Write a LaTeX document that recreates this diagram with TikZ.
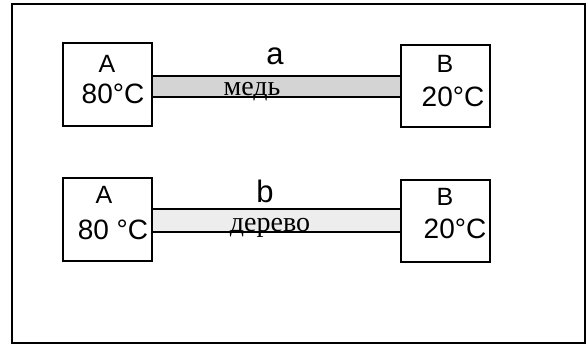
\documentclass[tikz,border=0pt]{standalone}
\usepackage{fontspec}
\setmainfont{Liberation Serif}
\setsansfont{Liberation Sans}
\begin{document}
\begin{tikzpicture}[x=1pt,y=-1pt,
  tbox/.style={draw=black,line width=1.4pt,fill=white},
  rod/.style={draw=black,line width=1.2pt},
  lab/.style={font=\sffamily\fontsize{25}{27}\selectfont,inner sep=0pt,anchor=base},
  tmp/.style={font=\sffamily\fontsize{28}{30}\selectfont,inner sep=0pt,anchor=base},
  let/.style={font=\sffamily\fontsize{31}{33}\selectfont,inner sep=0pt,anchor=base},
  mat/.style={font=\fontsize{28}{30}\selectfont,inner sep=0pt,anchor=base}]
\useasboundingbox (0,0) rectangle (586,345);
\fill[white] (0,0) rectangle (586,345);
\draw[line width=2pt] (12,4) rectangle (585,343);
% rods
\draw[rod,fill=black!17] (150,76) rectangle (403,97);
\draw[rod,fill=black!7] (150,209) rectangle (403,232);
% boxes
\draw[tbox] (63,43) rectangle (152,126);
\draw[tbox] (401,45) rectangle (490,127);
\draw[tbox] (63,178) rectangle (152,261);
\draw[tbox] (401,180) rectangle (490,262);
% labels
\node[lab] (A1) at (107,72) {A};
\node[tmp] (T1) at (113,103) {80°C};
\node[lab] (B1) at (445,72) {B};
\node[tmp] (T2) at (453,106) {20°C};
\node[lab] (A2) at (104,203) {A};
\node[tmp] (T3) at (113,239) {80 °C};
\node[lab] (B2) at (445,205) {B};
\node[tmp] (T4) at (455,238) {20°C};
\node[let] (la) at (275,65) {a};
\node[let] (lb) at (265,202) {b};
\node[mat] (m1) at (252,95) {медь};
\node[mat] (m2) at (270,231) {дерево};
\end{tikzpicture}
\end{document}
